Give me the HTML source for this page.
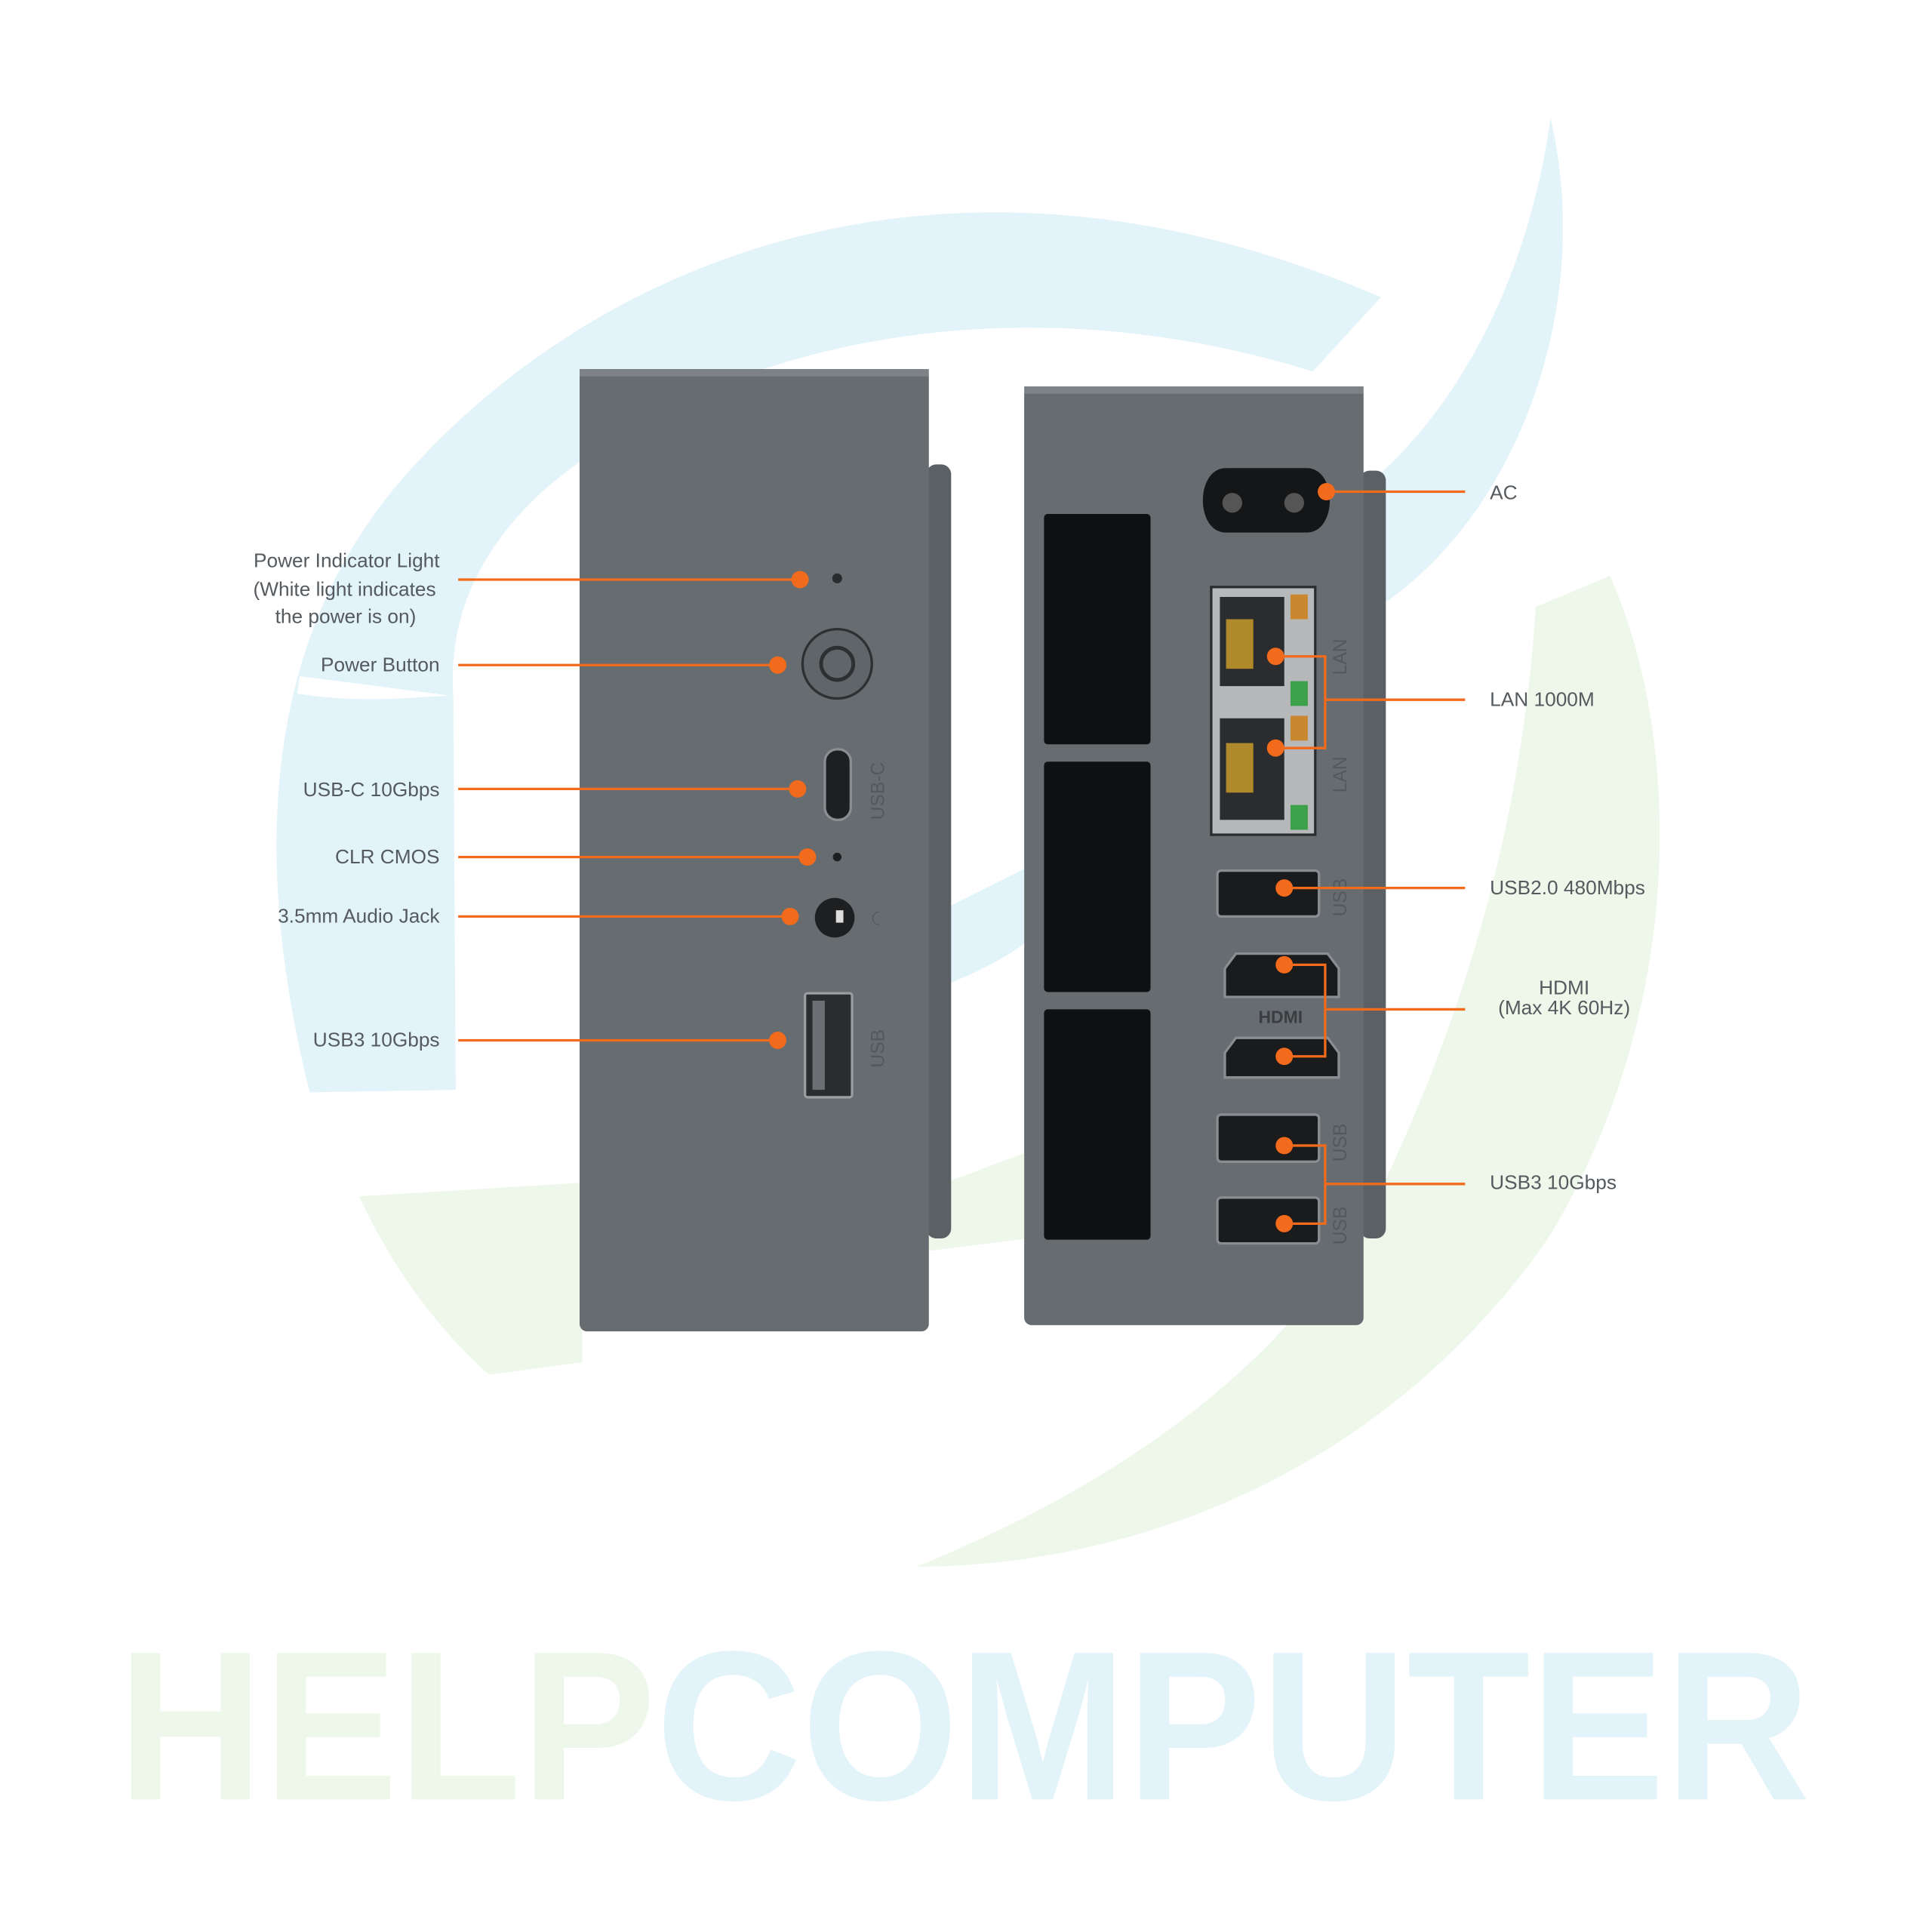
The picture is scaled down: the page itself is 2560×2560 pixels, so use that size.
<!DOCTYPE html>
<html><head><meta charset="utf-8"><style>
html,body{margin:0;padding:0;background:#fff;}
svg{display:block;}
text{font-family:"Liberation Sans",sans-serif;}
</style></head><body>
<svg width="2560" height="2560" viewBox="0 0 1560 1560" xmlns="http://www.w3.org/2000/svg">
<!-- background swooshes -->
<path d="M250,882 C200,680 215,500 340,370 C500,200 780,95 1115,240 L1060,300 C820,225 580,275 440,395 C385,445 362,500 366,562 L242,546 L240,560 C300,570 360,560 366,562 L368,880 Z" fill="#e2f3fa"/>
<path d="M1252,95 C1290,260 1215,430 1105,495 L1100,395 C1180,330 1235,220 1252,95 Z" fill="#e2f3fa"/>
<path d="M750,800 C780,790 810,775 830,760 L830,700 L750,740 Z" fill="#e2f3fa"/>
<path d="M1300,465 C1360,600 1360,820 1250,1000 C1110,1200 900,1265 740,1265 C900,1200 1050,1100 1120,950 C1190,800 1230,650 1240,490 Z" fill="#edf8ea"/>
<path d="M290,966 L470,955 L470,1100 L395,1110 C350,1070 315,1020 290,966 Z" fill="#edf8ea"/>
<path d="M750,960 L830,930 L830,1000 L750,1010 Z" fill="#edf8ea"/>
<!-- HELPCOMPUTER -->
<text x="95" y="1453" font-size="172" font-weight="bold" textLength="1367" lengthAdjust="spacingAndGlyphs"><tspan fill="#edf8ea">HELP</tspan><tspan fill="#e2f3fa">COMPUTER</tspan></text>

<!-- left device -->
<rect x="748" y="375" width="20" height="625" rx="8" fill="#5b6064"/>
<rect x="468" y="298" width="282" height="777" rx="6" fill="#676c70"/>
<rect x="468" y="298" width="282" height="6" fill="#7d8286"/>
<circle cx="676" cy="467" r="4" fill="#2a2c2e"/>
<circle cx="676" cy="536" r="28" fill="#60656a" stroke="#2d2f31" stroke-width="2"/>
<circle cx="676" cy="536" r="13" fill="none" stroke="#2d2f31" stroke-width="3"/>
<rect x="666" y="605" width="21" height="57" rx="10" fill="#1e1f20" stroke="#8a8e92" stroke-width="2"/>
<text font-size="15" fill="#53585c" transform="translate(714,662) rotate(-90)">USB-C</text>
<circle cx="676" cy="692" r="3.5" fill="#1e1f20"/>
<circle cx="674" cy="741" r="16" fill="#1e1f20"/>
<rect x="675" y="735" width="6" height="10" fill="#ddd"/>
<text font-size="15" fill="#53585c" transform="translate(714,748) rotate(-90)">◠</text>
<rect x="650" y="802" width="38" height="84" rx="2" fill="#2a2c2e" stroke="#9a9ea2" stroke-width="2"/>
<rect x="656" y="808" width="10" height="72" fill="#6b6f73"/>
<text font-size="15" fill="#53585c" transform="translate(714,862) rotate(-90)">USB</text>

<!-- right device -->
<rect x="1098" y="380" width="21" height="620" rx="8" fill="#5b6064"/>
<rect x="827" y="312" width="274" height="758" rx="6" fill="#676c70"/>
<rect x="827" y="312" width="274" height="6" fill="#7d8286"/>
<path d="M990,378 L1055,378 C1080,378 1080,430 1055,430 L990,430 C965,430 965,378 990,378 Z" fill="#151617"/>
<circle cx="995" cy="406" r="8" fill="#555"/><circle cx="1045" cy="406" r="8" fill="#555"/>
<rect x="843" y="415" width="86" height="186" rx="3" fill="#0f1011"/>
<rect x="843" y="615" width="86" height="186" rx="3" fill="#0f1011"/>
<rect x="843" y="815" width="86" height="186" rx="3" fill="#0f1011"/>
<rect x="978" y="474" width="84" height="200" fill="#b6b8b9" stroke="#2a2c2e" stroke-width="2"/>
<rect x="985" y="482" width="52" height="72" fill="#2a2c2e"/>
<rect x="985" y="580" width="52" height="82" fill="#2a2c2e"/>
<rect x="990" y="500" width="22" height="40" fill="#b08a2a"/>
<rect x="990" y="600" width="22" height="40" fill="#b08a2a"/>
<rect x="1042" y="480" width="14" height="20" fill="#c9882f"/>
<rect x="1042" y="550" width="14" height="20" fill="#3da04a"/>
<rect x="1042" y="578" width="14" height="20" fill="#c9882f"/>
<rect x="1042" y="650" width="14" height="20" fill="#3da04a"/>
<text font-size="15" fill="#53585c" transform="translate(1087,545) rotate(-90)">LAN</text>
<text font-size="15" fill="#53585c" transform="translate(1087,640) rotate(-90)">LAN</text>
<rect x="983" y="703" width="82" height="37" rx="3" fill="#1a1b1c" stroke="#8a8e92" stroke-width="2"/>
<text font-size="15" fill="#53585c" transform="translate(1087,740) rotate(-90)">USB</text>
<path d="M998,770 L1072,770 L1081,782 L1081,805 L989,805 L989,782 Z" fill="#1a1b1c" stroke="#8a8e92" stroke-width="2"/>
<text x="1034" y="826" font-size="14" font-weight="bold" fill="#3a3d40" text-anchor="middle">HDMI</text>
<path d="M998,838 L1072,838 L1081,850 L1081,870 L989,870 L989,850 Z" fill="#1a1b1c" stroke="#8a8e92" stroke-width="2"/>
<rect x="983" y="900" width="82" height="38" rx="3" fill="#1a1b1c" stroke="#8a8e92" stroke-width="2"/>
<rect x="983" y="967" width="82" height="37" rx="3" fill="#1a1b1c" stroke="#8a8e92" stroke-width="2"/>
<text font-size="15" fill="#53585c" transform="translate(1087,938) rotate(-90)">USB</text>
<text font-size="15" fill="#53585c" transform="translate(1087,1005) rotate(-90)">USB</text>

<!-- callouts -->
<g stroke="#f26a1b" stroke-width="2" fill="none">
<line x1="370" y1="468" x2="646" y2="468"/>
<line x1="370" y1="537" x2="628" y2="537"/>
<line x1="370" y1="637" x2="644" y2="637"/>
<line x1="370" y1="692" x2="652" y2="692"/>
<line x1="370" y1="740" x2="638" y2="740"/>
<line x1="370" y1="840" x2="628" y2="840"/>
<line x1="1071" y1="397" x2="1183" y2="397"/>
<polyline points="1030,530 1070,530 1070,604 1030,604"/><line x1="1070" y1="565" x2="1183" y2="565"/>
<line x1="1037" y1="717" x2="1183" y2="717"/>
<polyline points="1037,779 1070,779 1070,853 1037,853"/><line x1="1070" y1="815" x2="1183" y2="815"/>
<polyline points="1037,925 1070,925 1070,988 1037,988"/><line x1="1070" y1="956" x2="1183" y2="956"/>
</g>
<g fill="#f26a1b">
<circle cx="646" cy="468" r="7"/><circle cx="628" cy="537" r="7"/><circle cx="644" cy="637" r="7"/>
<circle cx="652" cy="692" r="7"/><circle cx="638" cy="740" r="7"/><circle cx="628" cy="840" r="7"/>
<circle cx="1071" cy="397" r="7"/><circle cx="1030" cy="530" r="7"/><circle cx="1030" cy="604" r="7"/>
<circle cx="1037" cy="717" r="7"/><circle cx="1037" cy="779" r="7"/><circle cx="1037" cy="853" r="7"/>
<circle cx="1037" cy="925" r="7"/><circle cx="1037" cy="988" r="7"/>
</g>
<g font-size="16" fill="#555a5e" text-anchor="end">
<text x="355" y="458">Power Indicator Light</text>
<text x="352" y="481">(White light indicates</text>
<text x="336" y="503">the power is on)</text>
<text x="355" y="542">Power Button</text>
<text x="355" y="643">USB-C 10Gbps</text>
<text x="355" y="697">CLR CMOS</text>
<text x="355" y="745">3.5mm Audio Jack</text>
<text x="355" y="845">USB3 10Gbps</text>
</g>
<g font-size="16" fill="#555a5e">
<text x="1203" y="403">AC</text>
<text x="1203" y="570">LAN 1000M</text>
<text x="1203" y="722">USB2.0 480Mbps</text>
<text x="1263" y="803" text-anchor="middle">HDMI</text>
<text x="1263" y="819" text-anchor="middle">(Max 4K 60Hz)</text>
<text x="1203" y="960">USB3 10Gbps</text>
</g>
</svg>
</body></html>
